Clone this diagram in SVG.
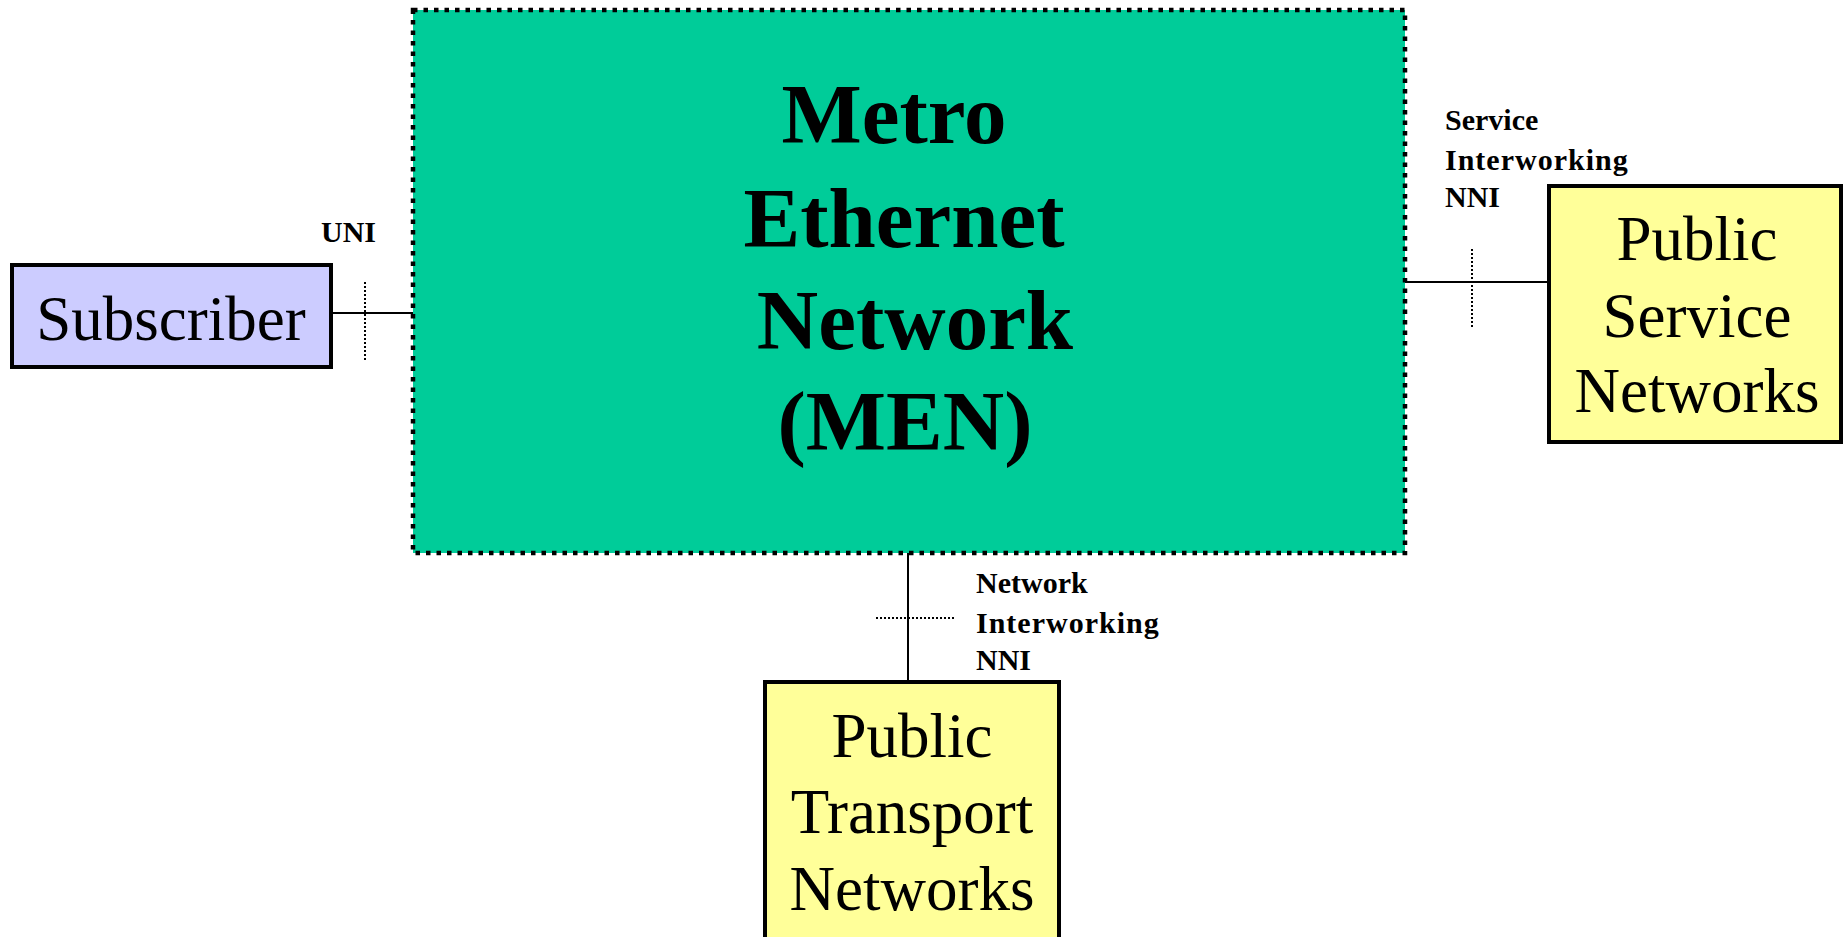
<svg xmlns="http://www.w3.org/2000/svg" width="1843" height="937" viewBox="0 0 1843 937">
  <style>
    .box { stroke: #000; stroke-width: 4; }
    .big { font-family: "Liberation Serif", "Times New Roman", serif; font-size: 63px; fill: #000; text-anchor: middle; }
    .men { font-family: "Liberation Serif", "Times New Roman", serif; font-size: 85px; font-weight: bold; fill: #000; text-anchor: middle; }
    .lbl { font-family: "Liberation Serif", "Times New Roman", serif; font-size: 30px; font-weight: bold; fill: #000; }
    .link { stroke: #000; stroke-width: 2; fill: none; }
    .ref { stroke: #000; stroke-width: 2; stroke-dasharray: 2 2; fill: none; }
  </style>
  <rect width="1843" height="937" fill="#fff"/>

  <g id="connectors">
    <!-- UNI: Subscriber to MEN -->
    <line class="link" x1="333" y1="313" x2="413" y2="313"/>
    <line class="ref" x1="365" y1="282" x2="365" y2="362"/>
    <!-- Service interworking NNI -->
    <line class="link" x1="1405" y1="282" x2="1547" y2="282"/>
    <line class="ref" x1="1472" y1="249" x2="1472" y2="329"/>
    <!-- Network interworking NNI -->
    <line class="link" x1="908" y1="553" x2="908" y2="682"/>
    <line class="ref" x1="876" y1="618" x2="956" y2="618"/>
  </g>

  <g id="men">
    <rect x="413" y="10" width="992" height="543" fill="#00CC99" stroke="#000" stroke-width="4.5" stroke-dasharray="4.5 6"/>
    <text class="men" x="894" y="143">Metro</text>
    <text class="men" x="904" y="247">Ethernet</text>
    <text class="men" x="915" y="349">Network</text>
    <text class="men" x="905" y="450">(MEN)</text>
  </g>

  <g id="subscriber">
    <rect class="box" x="12" y="265" width="319" height="102" fill="#CCCCFF"/>
    <text class="big" x="171" y="340" font-size="64">Subscriber</text>
  </g>

  <g id="public-service-networks">
    <rect class="box" x="1549" y="186" width="292" height="256" fill="#FFFF99"/>
    <text class="big" x="1697" y="260">Public</text>
    <text class="big" x="1697" y="337">Service</text>
    <text class="big" x="1697" y="412">Networks</text>
  </g>

  <g id="public-transport-networks">
    <rect class="box" x="765" y="682" width="294" height="270" fill="#FFFF99"/>
    <text class="big" x="912" y="757">Public</text>
    <text class="big" x="912" y="833">Transport</text>
    <text class="big" x="912" y="910">Networks</text>
  </g>

  <g id="labels">
    <text class="lbl" x="321" y="242">UNI</text>
    <text class="lbl" x="1445" y="130">Service</text>
    <text class="lbl" x="1445" y="170" letter-spacing="1">Interworking</text>
    <text class="lbl" x="1445" y="207">NNI</text>
    <text class="lbl" x="976" y="593">Network</text>
    <text class="lbl" x="976" y="633" letter-spacing="1">Interworking</text>
    <text class="lbl" x="976" y="670">NNI</text>
  </g>
</svg>
